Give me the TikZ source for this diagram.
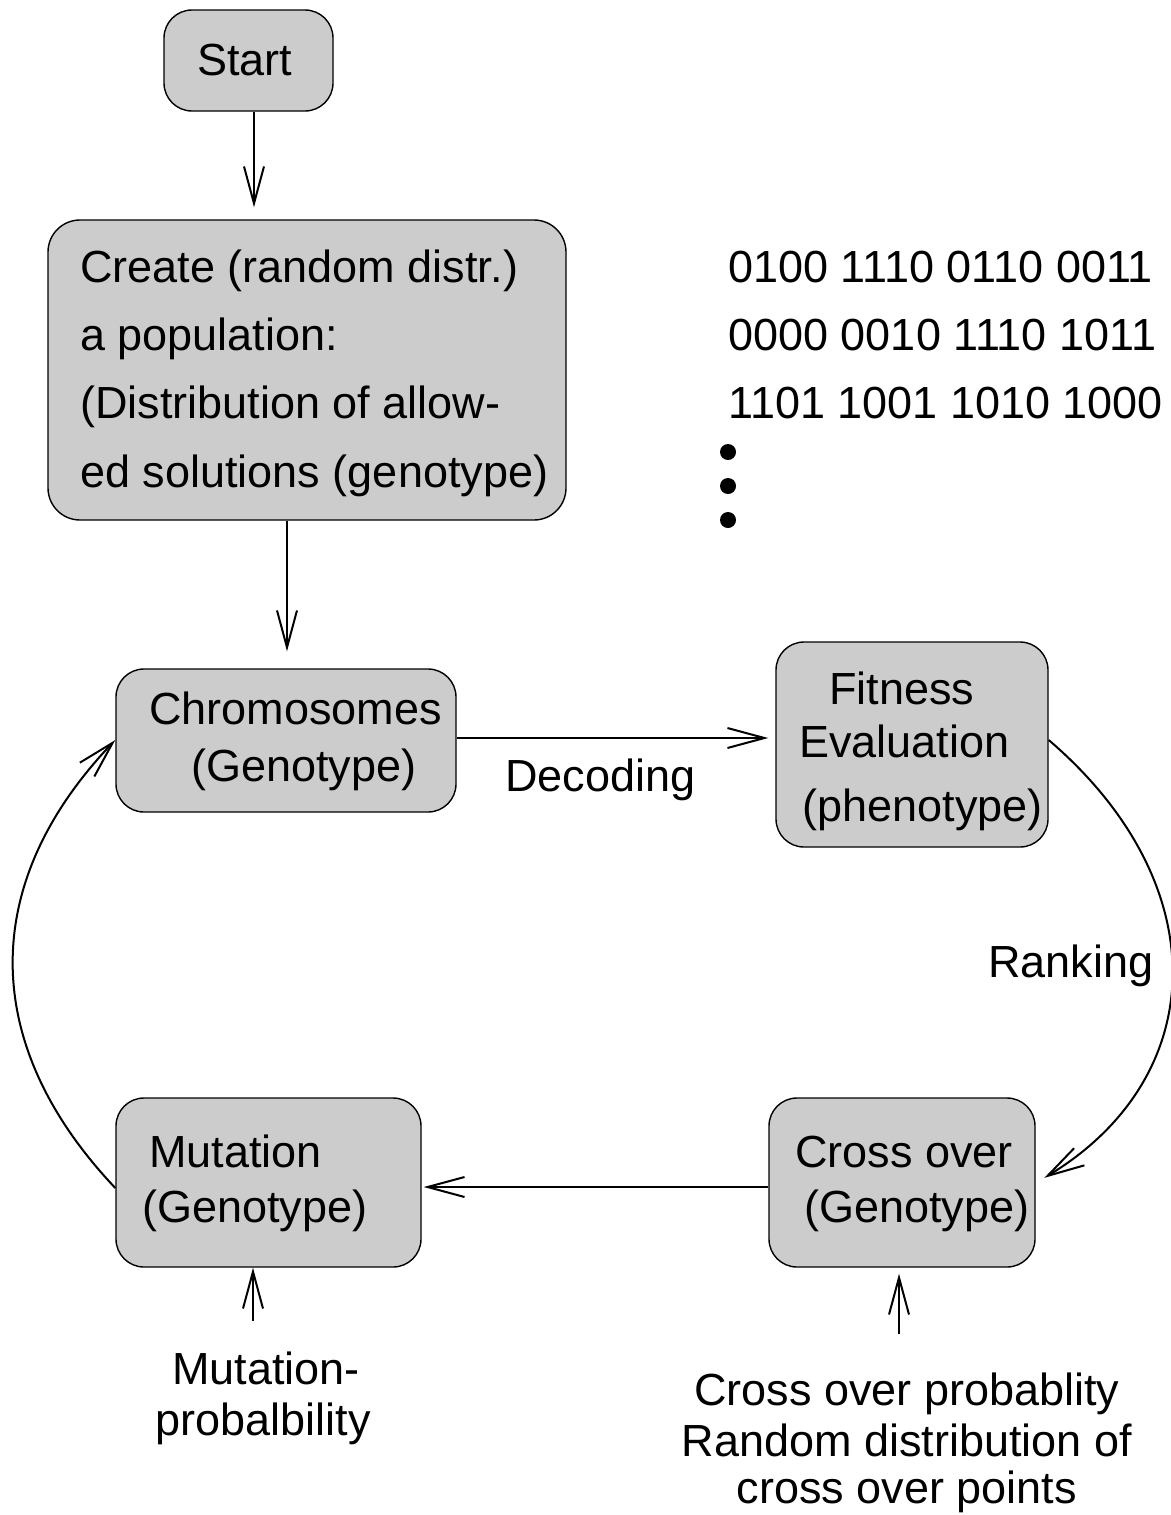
\documentclass[tikz,border=0pt]{standalone}
\usepackage{fontspec}
\setmainfont{Liberation Sans}
\usetikzlibrary{arrows.meta}
\definecolor{boxgray}{RGB}{204,204,204}
\begin{document}
\begin{tikzpicture}[x=0.5pt,y=-0.5pt,
  box/.style={draw=black, line width=0.7pt, fill=boxgray, rounded corners=14pt, inner sep=0pt},
  txt/.style={inner sep=0pt, anchor=base west, font=\fontsize{22.5}{27}\selectfont},
  ctxt/.style={inner sep=0pt, anchor=base, font=\fontsize{22.5}{27}\selectfont},
  arr/.style={line width=1pt, -{Straight Barb[length=18.5pt,width=10pt,line width=1pt]}},
  dotmark/.style={circle, fill=black, inner sep=0pt, minimum size=8pt}]
\useasboundingbox (0,0) rectangle (1171,1515);

% process boxes
\node[box, minimum width=84.5pt, minimum height=50.5pt] (start) at (248.5,60.5) {};
\node[box, minimum width=259pt, minimum height=150pt, rounded corners=16pt] (create) at (307,370) {};
\node[box, minimum width=170pt, minimum height=71.5pt] (chrom) at (286,740.5) {};
\node[box, minimum width=136pt, minimum height=102.5pt] (fit) at (912,744.5) {};
\node[box, minimum width=133pt, minimum height=84.5pt] (cross) at (902,1182.5) {};
\node[box, minimum width=152.5pt, minimum height=84.5pt] (mut) at (268.5,1182.5) {};

% box texts
\node[txt] (startT) at (197,75) {Start};
\node[txt] (createA) at (80,282) {Create (random distr.)};
\node[txt] (createB) at (80,350) {a population:};
\node[txt] (createC) at (80,418) {(Distribution of allow-};
\node[txt] (createD) at (80,487) {ed solutions (genotype)};
\node[txt] (chromA) at (149,724) {Chromosomes};
\node[txt] (chromB) at (191,781) {(Genotype)};
\node[txt] (fitA) at (829,704) {Fitness};
\node[txt] (fitB) at (799,757) {Evaluation};
\node[txt] (fitC) at (802,821) {(phenotype)};
\node[txt] (crossA) at (795,1167) {Cross over};
\node[txt] (crossB) at (804,1222) {(Genotype)};
\node[txt] (mutA) at (149,1167) {Mutation};
\node[txt] (mutB) at (142,1222) {(Genotype)};

% population of bit strings
\node[txt] (bitsA) at (728,282) {0100 1110 0110 0011};
\node[txt] (bitsB) at (728,350) {0000 0010 1110 1011};
\node[txt] (bitsC) at (728,418) {1101 1001 1010 1000};
\node[dotmark] (dotA) at (728,452) {};
\node[dotmark] (dotB) at (728,486) {};
\node[dotmark] (dotC) at (728,520) {};

% edge labels and parameters
\node[txt] (decode) at (505,791) {Decoding};
\node[txt] (rank) at (988,977) {Ranking};
\node[ctxt] (mprobA) at (266,1384) {Mutation-};
\node[ctxt] (mprobB) at (263,1435) {probalbility};
\node[ctxt] (cprobA) at (907,1405) {Cross over probablity};
\node[ctxt] (cprobB) at (907,1456) {Random distribution of};
\node[ctxt] (cprobC) at (907,1503) {cross over points};

% connectors
\draw[arr, shorten >=6pt] (start.south -| 254,0) -- (create.north -| 254,0);
\draw[arr, shorten >=8.5pt] (create.south -| 287,0) -- (chrom.north -| 287,0);
\draw[arr, shorten >=3.5pt] (chrom.east |- 0,738) -- (fit.west |- 0,738);
\draw[arr, shorten >=5pt] (fit.east |- 0,740) .. controls (1218,885) and (1210,1078) .. (cross.east |- 0,1183);
\draw[arr, shorten >=1pt] (cross.west |- 0,1187) -- (mut.east |- 0,1187);
\draw[arr] (mut.west |- 0,1188) .. controls (-20,1045) and (-22,884) .. (chrom.west |- 0,740);
\draw[arr] (mprobA.north -| 253,0) ++(0,-30) -- (mut.south -| 253,0);
\draw[arr, shorten >=3pt] (cprobA.north -| 899,0) ++(0,-38) -- (cross.south -| 899,0);
\end{tikzpicture}
\end{document}
